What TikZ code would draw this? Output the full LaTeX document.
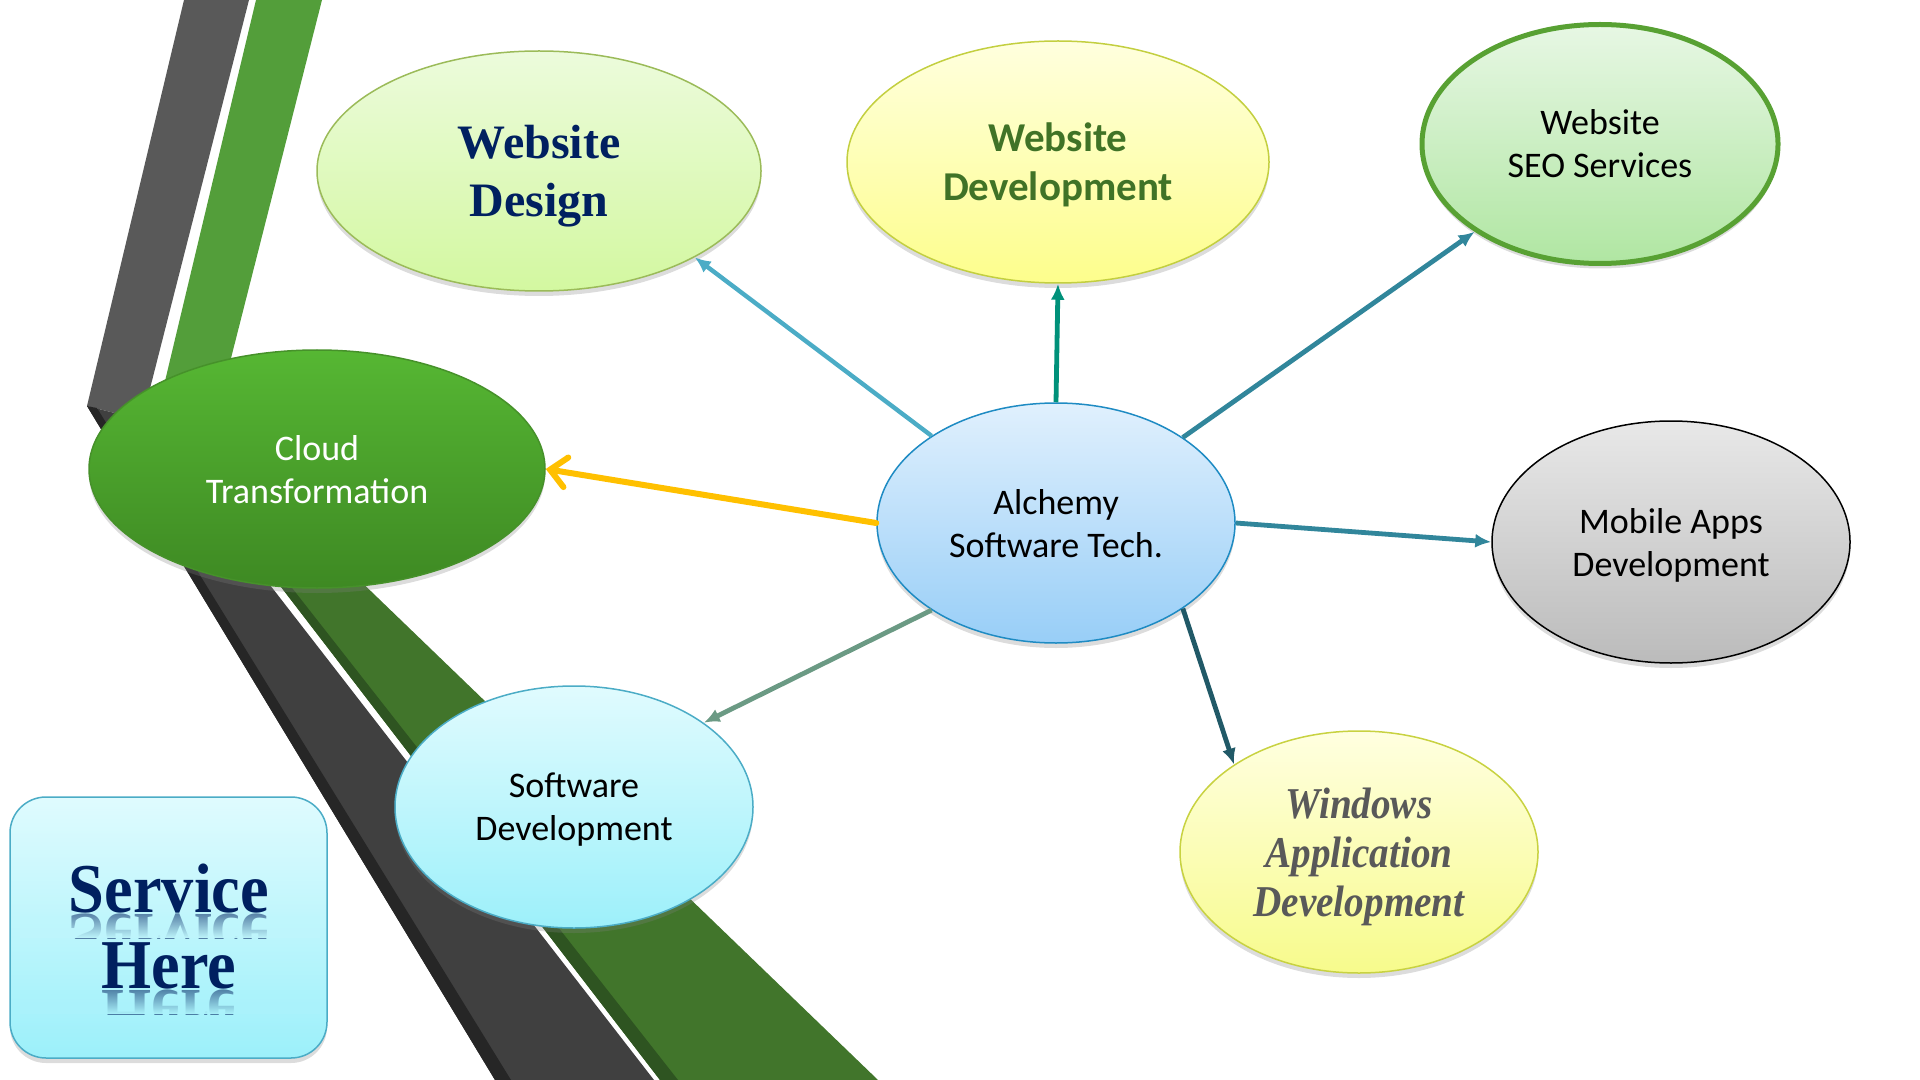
\documentclass[tikz,border=0pt]{standalone}
\usepackage{fontspec}
\setmainfont{Liberation Serif}
\newfontfamily\calfont{Carlito}
\newfontfamily\condserif[FakeStretch=0.89]{Liberation Serif}
\newfontfamily\svcserif[FakeStretch=0.92]{Liberation Serif}
\usetikzlibrary{arrows.meta,shadows,fadings,shapes.geometric}
\definecolor{grayup}{RGB}{89,89,89}
\definecolor{graylo}{RGB}{64,64,64}
\definecolor{graydk}{RGB}{38,38,38}
\definecolor{greenup}{RGB}{83,158,58}
\definecolor{greenlo}{RGB}{65,117,43}
\definecolor{greendk}{RGB}{46,84,33}
\definecolor{navy}{RGB}{0,32,96}
\definecolor{devgreen}{RGB}{64,115,39}
\definecolor{wingray}{RGB}{89,89,89}
\definecolor{aDesign}{RGB}{75,172,198}
\definecolor{aDev}{RGB}{0,145,122}
\definecolor{aSeo}{RGB}{49,134,155}
\definecolor{aCloud}{RGB}{255,192,0}
\definecolor{aSoft}{RGB}{107,154,132}
\definecolor{aWin}{RGB}{33,89,103}
\definecolor{bgA}{RGB}{191,246,252}
\definecolor{bgB}{RGB}{171,243,251}
\tikzfading[name=reflfade, top color=transparent!100, bottom color=transparent!0]
\begin{document}
\begin{tikzpicture}[x=0.5pt,y=-0.5pt,
  bub/.style={ellipse, inner sep=0pt, align=center, line width=0.75pt, text depth=0pt,
    drop shadow={shadow xshift=0pt, shadow yshift=-2.5pt, opacity=0.28}},
  cal/.style={font=\calfont\fontsize{18}{21.5}\selectfont},
  arr/.style={line width=2.4pt, -{Latex[length=8pt,width=7pt]}},
  svcfont/.style={font=\svcserif\bfseries\fontsize{35}{38}\selectfont, text=navy, inner sep=0pt}
]
\useasboundingbox (0,0) rectangle (1920,1080);
% ribbons
\fill[grayup] (184,0) -- (249,0) -- (142,420) -- (87,406) -- cycle;
\fill[graylo] (87,406) -- (142,420) -- (654,1080) -- (495,1080) -- cycle;
\fill[graydk] (87,406) -- (97,408) -- (511,1080) -- (495,1080) -- cycle;
\fill[greenup] (256,0) -- (322,0) -- (211,437) -- (155,423) -- cycle;
\fill[greenlo] (155,423) -- (211,437) -- (878,1080) -- (660,1080) -- cycle;
\fill[greendk] (155,423) -- (165,426) -- (678,1080) -- (660,1080) -- cycle;

% nodes
\node[bub, minimum width=222pt, minimum height=120pt, draw={rgb,255:red,155;green,187;blue,89},
  top color={rgb,255:red,236;green,251;blue,220}, bottom color={rgb,255:red,211;green,248;blue,160},
  font=\bfseries\fontsize{24}{29}\selectfont, text=navy] (wdes) at (539,171) {Website\\Design};
\node[bub, minimum width=211pt, minimum height=121pt, draw={rgb,255:red,195;green,207;blue,64},
  top color={rgb,255:red,255;green,255;blue,222}, bottom color={rgb,255:red,253;green,254;blue,140},
  font=\calfont\bfseries\fontsize{20.5}{24.5}\selectfont, text=devgreen] (wdev) at (1058,162) {Website\\Development};
\node[bub, cal, minimum width=178pt, minimum height=119.5pt, line width=2.5pt, draw={rgb,255:red,88;green,161;blue,51},
  top color={rgb,255:red,231;green,247;blue,228}, bottom color={rgb,255:red,176;green,230;blue,162}] (seo) at (1600,144) {Website\\SEO Services};
\node[bub, cal, minimum width=228pt, minimum height=119pt, draw={rgb,255:red,70;green,145;blue,42},
  top color={rgb,255:red,86;green,183;blue,51}, bottom color={rgb,255:red,62;green,137;blue,35}, text=white] (cloud) at (317,469) {Cloud\\Transformation};
\node[bub, cal, minimum width=179pt, minimum height=120pt, draw={rgb,255:red,30;green,139;blue,195},
  top color={rgb,255:red,224;green,240;blue,253}, bottom color={rgb,255:red,152;green,206;blue,247}] (alch) at (1056,523) {Alchemy\\Software Tech.};
\node[bub, cal, minimum width=179pt, minimum height=121pt, draw=black,
  top color={rgb,255:red,232;green,232;blue,232}, bottom color={rgb,255:red,187;green,187;blue,187}] (mob) at (1671,542) {Mobile Apps\\Development};
\node[bub, cal, minimum width=179pt, minimum height=121pt, draw=aDesign,
  top color={rgb,255:red,224;green,251;blue,254}, bottom color={rgb,255:red,157;green,240;blue,250}] (soft) at (574,807) {Software\\Development};
\node[bub, minimum width=179pt, minimum height=121pt, draw={rgb,255:red,200;green,210;blue,65},
  top color={rgb,255:red,255;green,255;blue,224}, bottom color={rgb,255:red,247;green,251;blue,140},
  font=\condserif\bfseries\itshape\fontsize{22}{24.5}\selectfont, text=wingray] (win) at (1359,852) {Windows\\Application\\Development};

% service box
\node[draw=aDesign, line width=0.75pt, rounded corners=18pt, minimum width=158.5pt, minimum height=130.5pt,
  top color={rgb,255:red,223;green,251;blue,254}, bottom color={rgb,255:red,156;green,240;blue,250},
  drop shadow={shadow xshift=0pt, shadow yshift=-2.5pt, opacity=0.28}] (svc) at (168.5,927.5) {};
\node[svcfont, anchor=base] (svc1) at (169,912) {Service};
\node[svcfont, anchor=base] (svc2) at (169,988) {Here};
\begin{scope}
  \clip (20,913) rectangle (320,938);
  \node[svcfont, anchor=base, yscale=-1, transform shape, opacity=0.55] at (169,914) {Service};
  \fill[bgA, path fading=reflfade] (20,913) rectangle (320,938);
\end{scope}
\begin{scope}
  \clip (20,989) rectangle (320,1014);
  \node[svcfont, anchor=base, yscale=-1, transform shape, opacity=0.55] at (169,990) {Here};
  \fill[bgB, path fading=reflfade] (20,989) rectangle (320,1014);
\end{scope}

% connectors
\draw[arr, aDesign, line width=2.2pt] (alch.145.7) -- (wdes.-29.4);
\draw[arr, aDev] (alch.north) -- (wdev.south);
\draw[arr, aSeo] (alch.34.2) -- (seo.215);
\draw[aCloud, line width=3pt, line cap=round, -{Straight Barb[length=8pt,width=15pt,line cap=round]}] (alch.west) -- (cloud.east);
\draw[arr, aSeo] (alch.east) -- (mob.west);
\draw[arr, aSoft] (alch.-145) -- (soft.33.8);
\draw[arr, aWin] (alch.-34.7) -- (win.145.6);
\end{tikzpicture}
\end{document}
